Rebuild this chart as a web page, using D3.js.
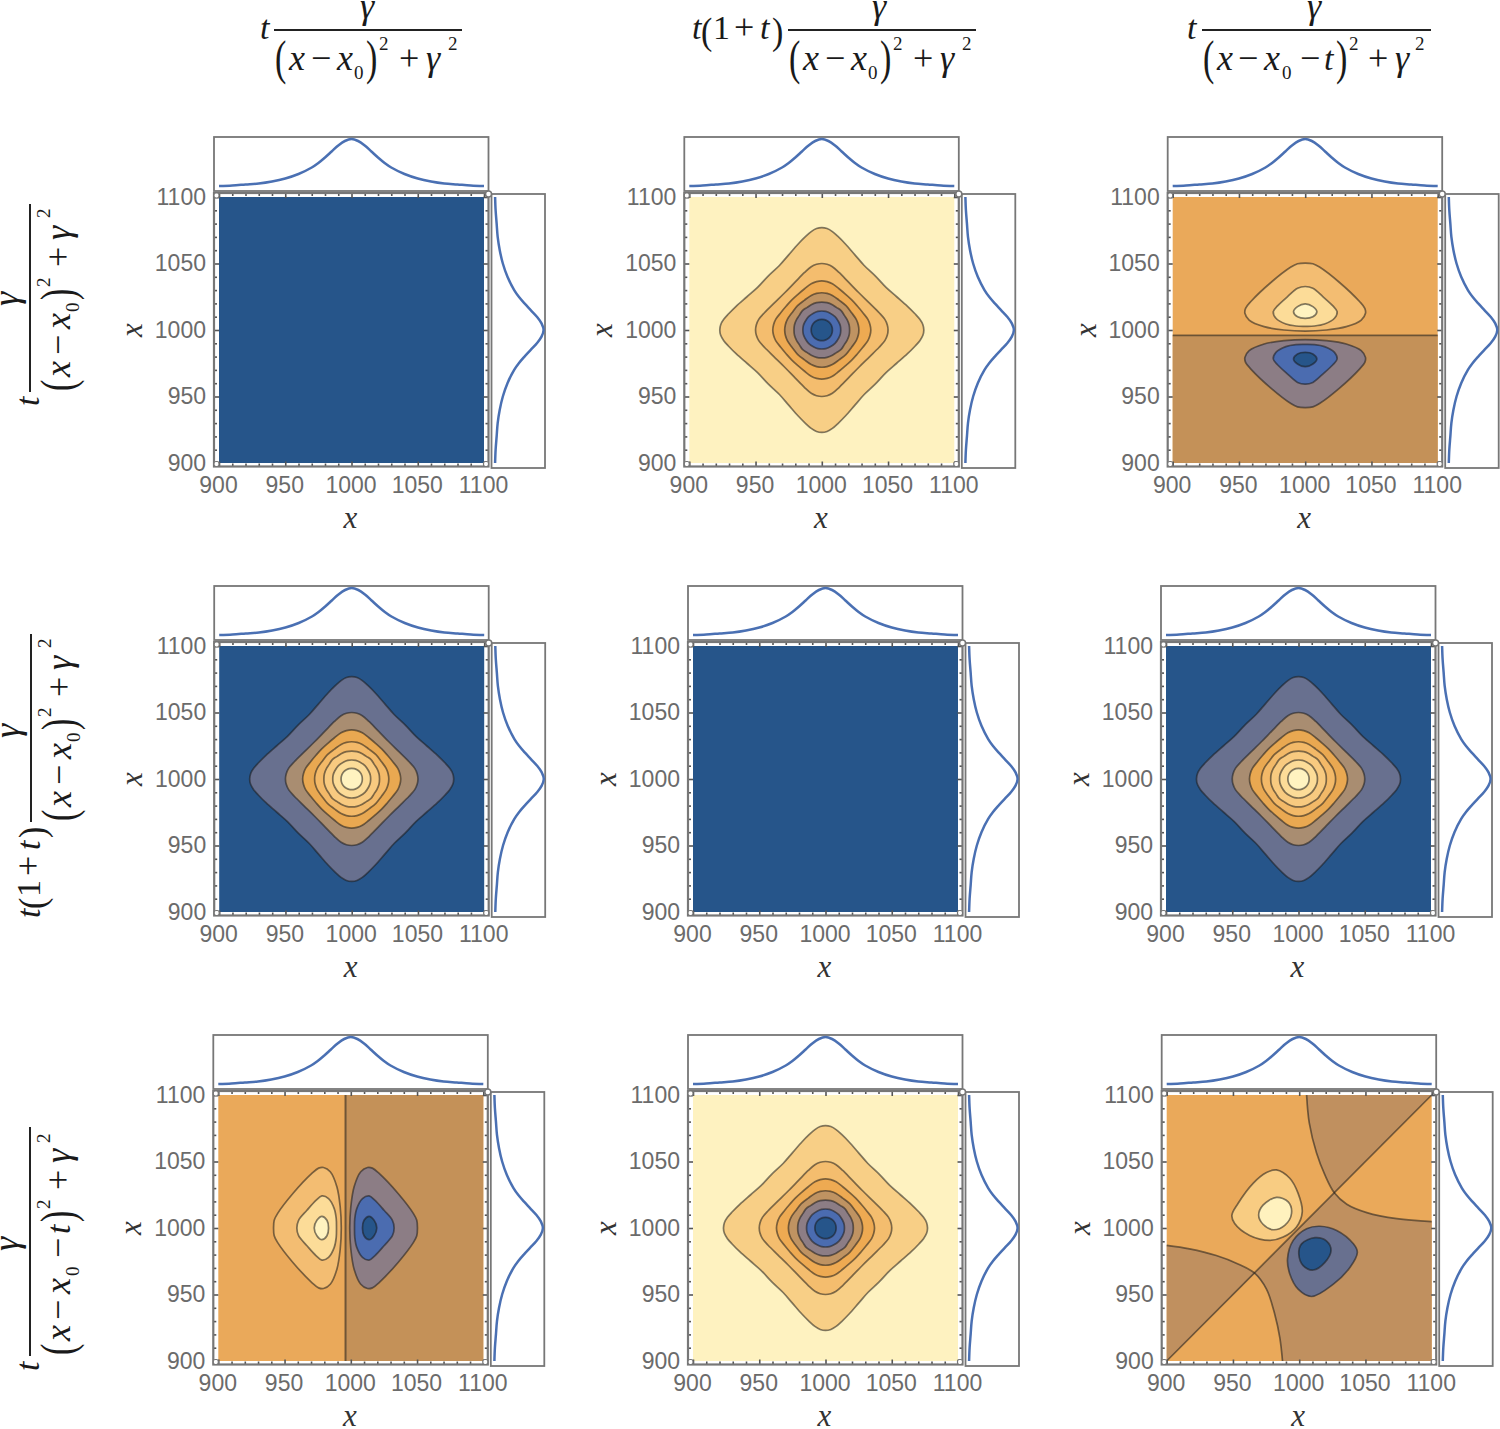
<!DOCTYPE html>
<html>
<head>
<meta charset="utf-8">
<script src="https://cdn.jsdelivr.net/npm/d3@7"></script>
<style>
  html, body { margin: 0; background: #fff; }
  svg { display: block; }
</style>
</head>
<body>
<svg id="chart" width="1500" height="1429"></svg>
<script>
// axis values
const majorTicks = [900, 950, 1000, 1050, 1100];
const minorTicks = d3.range(900, 1101, 10);

// 1D spectrum
const spectrumX = [900, 910, 920, 930, 940, 950, 960, 970, 975, 980, 985, 990, 995, 1000, 1005, 1010, 1015, 1020, 1025, 1030, 1040, 1050, 1060, 1070, 1080, 1090, 1100];
const spectrumY = [0.06, 0.07, 0.09, 0.11, 0.15, 0.21, 0.30, 0.43, 0.52, 0.63, 0.75, 0.87, 0.96, 1.0, 0.96, 0.87, 0.75, 0.63, 0.52, 0.43, 0.30, 0.21, 0.15, 0.11, 0.09, 0.07, 0.06];

// diamond contours around (1000,1000): one eighth of each, as [dx, dy] in data units
const diamond1 = [[0, 77], [4, 76.3], [8, 74], [12, 70.5], [18, 64.5], [25, 56.5], [32, 48.5], [40.5, 40.5]];
const diamond2 = [[0, 50], [4, 49.4], [8, 47.6], [13, 43.3], [20, 36.2], [28, 28]];
const diamond3 = [[0, 37], [4, 36.4], [8, 34.8], [13, 31], [18, 26.8], [22.6, 22.6]];
const diamond4 = [[0, 28], [4, 27.5], [8, 26], [13, 22.5], [18.3, 18.3]];
const diamond5 = [[0, 21], [4, 20.6], [8, 19], [11, 17], [14.6, 14.6]];
const diamond6 = [[0, 14.3], [3, 14], [6, 12.8], [10, 10]];
const diamond7 = [[0, 8], [2, 7.8], [4, 7], [5.7, 5.7]];
const diamonds = [diamond1, diamond2, diamond3, diamond4, diamond5, diamond6, diamond7];

// upper lobes of the shifted peak, right half only, x then y in data units
const lobeHalf1 = [[1000, 1050.3], [1005.8, 1049.8], [1010.8, 1047.3], [1025.9, 1035.7], [1041, 1021.4], [1045, 1016.3], [1045.5, 1012.6], [1042.3, 1007.5], [1031, 1002.5], [1015.8, 1000], [1000, 999.2]];
const lobeHalf2 = [[1000, 1032.7], [1005.8, 1031.4], [1013.3, 1025.1], [1020.9, 1018.1], [1024.1, 1013.8], [1022.1, 1008.8], [1014.6, 1004.5], [1007, 1003], [1000, 1002.8]];
const lobeHalf3 = [[1000, 1019.6], [1005.8, 1017.6], [1008.8, 1013.8], [1005.8, 1010], [1000, 1008.8]];
const splitValue = 996;

// bottom right panel
const crossUpper = [[1005.6, 1100], [1007.6, 1079], [1013.1, 1056.3], [1019.4, 1039.9], [1026.5, 1026.5], [1035.9, 1017.9], [1051, 1011.6], [1073.7, 1007], [1100, 1004.8]];
const crossLower = [[900, 986.9], [917.2, 984.3], [937.4, 979.3], [953.8, 973], [966.4, 966], [975.3, 954], [981.6, 935], [985.4, 917.4], [987.4, 900]];
const crossLight1 = [[982.8, 1043.7], [992.9, 1037.4], [999.2, 1026], [1002.3, 1012.1], [998, 1000.8], [987.9, 993.2], [977.8, 990.7], [962.6, 994.4], [951.3, 1003.3], [949.2, 1009.6], [953.8, 1018.4], [965.2, 1033.6], [975.3, 1041.7]];
const crossLight2 = [[982.8, 1023], [991.7, 1019.7], [994.2, 1010.9], [989.1, 1002], [980.3, 998.7], [972.7, 1002.8], [969.4, 1009.6], [972.7, 1017.2]];
const crossDark1 = [[1015.7, 1001.3], [1028.3, 998.2], [1040.9, 988.1], [1043.9, 981.8], [1038.4, 970.5], [1025.8, 957.8], [1009.3, 948.5], [999.2, 954], [992.9, 965.4], [991.2, 976.8], [995.5, 990.7], [1005.6, 999.5]];
const crossDark2 = [[1011.9, 992.7], [1020.7, 990.2], [1024, 983.1], [1019.4, 974.2], [1010.6, 968.4], [1003, 971.7], [999.7, 980.6], [1001.8, 988.1]];

// colours
const darkBlue = "#26558a", midBlue = "#4b6cb0", grayBlue = "#68708f", gray = "#8c7d85";
const tan = "#a98d71", brown = "#c49158", orange = "#eaa95a", pale = "#fff3c0";
const peakDark = ["#fef2c0", "#f8cf86", "#f4bd6e", "#eeaa52", "#bf9362", gray, midBlue, darkBlue];
const peakLight = [darkBlue, grayBlue, tan, "#e9a851", "#f3b968", "#f8ca80", "#fcdc98", pale];
const lineColor = "rgba(25,25,25,0.55)";
const blueLine = "#4a70b3";
const frameColor = "#777";

// where each panel sits, left edge of the data square by row and column
const panelLeft = [[219, 689.3, 1172.7], [219.2, 693, 1166], [218.3, 693, 1166.7]];
const panelTop = [197, 646, 1095];
const panelKind = [["flat", "dark", "rowLobes"], ["light", "flat", "light"], ["colLobes", "dark", "cross"]];
const panelSize = 265;

const svg = d3.select("#chart");

const curveLine = (x, y) => d3.line().x(d => x(d[0])).y(d => y(d[1])).curve(d3.curveCatmullRom.alpha(0.5));
const closedLine = (x, y) => d3.line().x(d => x(d[0])).y(d => y(d[1])).curve(d3.curveCatmullRomClosed.alpha(0.5));

// turn one eighth of a diamond into the whole closed contour
function wholeDiamond(part) {
    let quarter = part.concat(part.slice(0, -1).reverse().map(p => [p[1], p[0]]));
    let right = quarter.concat(quarter.slice(0, -1).reverse().map(p => [p[0], -p[1]]));
    let all = right.concat(right.slice(1, -1).reverse().map(p => [-p[0], p[1]]));
    return all.map(p => [1000 + p[0], 1000 + p[1]]);
}

// lobes are left/right symmetric and the lower one mirrors the upper one about the split
const wholeLobe = half => half.concat(half.slice(1, -1).reverse().map(p => [2000 - p[0], p[1]]));
const flipLobe = lobe => lobe.map(p => [p[0], 2 * splitValue - p[1]]);
const swapAxes = lobe => lobe.map(p => [p[1], p[0]]);
const lobesUp = [lobeHalf1, lobeHalf2, lobeHalf3].map(wholeLobe);
const lobesDown = lobesUp.map(flipLobe);

function drawContours(g, x, y, shapes, colors) {
    let closed = closedLine(x, y);
    shapes.forEach(function(shape, i) {
        g.append("path")
            .attr("d", closed(shape))
            .attr("fill", colors[i])
            .attr("stroke", lineColor)
            .attr("stroke-width", 1.7);
    });
}

function drawTicks(g, axis, tx, ty, attr, sign) {
    let a = g.append("g").attr("transform", `translate(${tx},${ty})`)
        .call(axis.tickValues(minorTicks).tickFormat("").tickSizeOuter(0).tickSizeInner(3));
    a.select(".domain").remove();
    a.selectAll(".tick line").attr("stroke", "#555").attr("stroke-width", 1.6);
    a.selectAll(".tick").filter(d => majorTicks.includes(d)).select("line").attr(attr, sign * 5);
}

function drawPanel(row, col) {
    let left = panelLeft[row][col], top = panelTop[row];
    let right = left + panelSize, bottom = top + panelSize + 1;
    let x = d3.scaleLinear().domain([900, 1100]).range([left, right]);
    let y = d3.scaleLinear().domain([900, 1100]).range([bottom, top]);
    let kind = panelKind[row][col];
    let g = svg.append("g");

    // background
    let bg = kind === "flat" || kind === "light" ? darkBlue : kind === "dark" ? peakDark[0] : orange;
    g.append("rect").attr("x", left).attr("y", top).attr("width", right - left).attr("height", bottom - top).attr("fill", bg);

    if (kind === "dark" || kind === "light") {
        drawContours(g, x, y, diamonds.map(wholeDiamond), (kind === "dark" ? peakDark : peakLight).slice(1));
    }
    if (kind === "rowLobes") {
        g.append("rect").attr("x", left).attr("y", y(splitValue)).attr("width", right - left).attr("height", bottom - y(splitValue)).attr("fill", brown);
        g.append("line").attr("x1", left).attr("x2", right).attr("y1", y(splitValue)).attr("y2", y(splitValue)).attr("stroke", lineColor).attr("stroke-width", 1.7);
        drawContours(g, x, y, lobesUp, ["#f3bd72", "#fcdc98", pale]);
        drawContours(g, x, y, lobesDown, [gray, midBlue, darkBlue]);
    }
    if (kind === "colLobes") {
        // same lobes as the row panel with the two axes swapped
        g.append("rect").attr("x", x(splitValue)).attr("y", top).attr("width", right - x(splitValue)).attr("height", bottom - top).attr("fill", brown);
        g.append("line").attr("x1", x(splitValue)).attr("x2", x(splitValue)).attr("y1", top).attr("y2", bottom).attr("stroke", lineColor).attr("stroke-width", 2);
        drawContours(g, x, y, lobesDown.map(swapAxes), ["#f3bd72", "#fcdc98", pale]);
        drawContours(g, x, y, lobesUp.map(swapAxes), [gray, midBlue, darkBlue]);
    }
    if (kind === "cross") {
        // both curves touch the diagonal at their fifth point
        let curve = curveLine(x, y);
        let pt = (a, b) => "L" + x(a) + "," + y(b);
        let wedge1 = curve(crossUpper.slice(0, 5)) + pt(1100, 1100) + "Z";
        let wedge2 = curve(crossLower.slice(0, 5)) + pt(900, 900) + "Z";
        let middle = curve(crossUpper.slice(4)) + pt(1100, 900) + curve(crossLower.slice(4).reverse()).replace("M", "L") + "Z";
        g.append("path").attr("d", wedge1 + wedge2 + middle).attr("fill", "#c0905f");
        [crossUpper, crossLower].forEach(c => g.append("path").attr("d", curve(c)).attr("fill", "none").attr("stroke", lineColor).attr("stroke-width", 1.7));
        g.append("line").attr("x1", x(900)).attr("y1", y(900)).attr("x2", x(1100)).attr("y2", y(1100)).attr("stroke", lineColor).attr("stroke-width", 1.7);
        drawContours(g, x, y, [crossLight1, crossLight2], ["#f8cc82", "#fff2be"]);
        drawContours(g, x, y, [crossDark1, crossDark2], [grayBlue, darkBlue]);
    }

    // frame with ticks on all four sides, pointing in
    let fl = left - 5, fr = right + 4.5, ft = top - 4, fb = bottom + 3.5;
    drawTicks(g, d3.axisTop(x), 0, fb, "y2", -1);
    drawTicks(g, d3.axisBottom(x), 0, ft, "y2", 1);
    drawTicks(g, d3.axisRight(y), fl, 0, "x2", 1);
    drawTicks(g, d3.axisLeft(y), fr, 0, "x2", -1);
    g.append("rect").attr("x", fl).attr("y", ft).attr("width", fr - fl).attr("height", fb - ft)
        .attr("fill", "none").attr("stroke", frameColor).attr("stroke-width", 2.2);
    [[fl, ft], [fl, fb - 5], [fr - 5, fb - 5]].forEach(function(c) {
        g.append("rect").attr("x", c[0]).attr("y", c[1]).attr("width", 5).attr("height", 5).attr("rx", 2)
            .attr("fill", "#fff").attr("stroke", frameColor).attr("stroke-width", 1.2);
    });

    // tick labels
    let labelX = g.append("g").attr("transform", `translate(-1,${bottom + 2})`)
        .call(d3.axisBottom(x).tickValues(majorTicks).tickSize(0).tickPadding(12).tickFormat(d3.format("d")));
    let labelY = g.append("g").attr("transform", `translate(${left - 13},0)`)
        .call(d3.axisLeft(y).tickValues(majorTicks).tickSize(0).tickPadding(0).tickFormat(d3.format("d")));
    [labelX, labelY].forEach(function(a) {
        a.select(".domain").remove();
        a.selectAll("text").attr("font-family", "Liberation Sans").attr("font-size", 23).attr("fill", "#6b6b6b");
    });

    // axis names
    g.append("text").attr("x", x(1000) - 1).attr("y", bottom + 65).attr("text-anchor", "middle")
        .attr("font-family", "Liberation Serif").attr("font-style", "italic").attr("font-size", 31).attr("fill", "#333").text("x");
    g.append("text").attr("transform", `translate(${left - 77},${y(1000)}) rotate(-90)`).attr("text-anchor", "middle")
        .attr("font-family", "Liberation Serif").attr("font-style", "italic").attr("font-size", 31).attr("fill", "#333").text("x");

    // spectrum above
    let topY = d3.scaleLinear().domain([0, 1]).range([top - 8, top - 58]);
    g.append("rect").attr("x", fl).attr("y", top - 60).attr("width", fr - fl).attr("height", 54)
        .attr("fill", "none").attr("stroke", frameColor).attr("stroke-width", 1.8);
    g.append("path").attr("fill", "none").attr("stroke", blueLine).attr("stroke-width", 2.5)
        .attr("d", d3.line().x((d, i) => x(spectrumX[i])).y(d => topY(d)).curve(d3.curveCatmullRom.alpha(0.5))(spectrumY));

    // spectrum on the side
    let sideX = d3.scaleLinear().domain([0, 1]).range([right + 8, right + 59.6]);
    g.append("rect").attr("x", right + 7.5).attr("y", top - 3).attr("width", 53.5).attr("height", panelSize + 9)
        .attr("fill", "none").attr("stroke", frameColor).attr("stroke-width", 1.8);
    g.append("path").attr("fill", "none").attr("stroke", blueLine).attr("stroke-width", 2.5)
        .attr("d", d3.line().x(d => sideX(d)).y((d, i) => y(spectrumX[i])).curve(d3.curveCatmullRom.alpha(0.5))(spectrumY));

    // little circle where the boxes meet
    g.append("circle").attr("cx", fr).attr("cy", top - 3).attr("r", 3)
        .attr("fill", "#fff").attr("stroke", frameColor).attr("stroke-width", 1.5);
}

// formula pieces: text, along, across, size, italic, tall
const denominatorPlain = [["(", 1, 44, 34, 0, 1.4], ["x", 15, 40, 36, 1], ["\u2212", 37, 40, 36, 0], ["x", 63, 40, 36, 1], ["0", 80, 49, 19, 0], [")", 92, 44, 34, 0, 1.4], ["2", 105, 20, 19, 0], ["+", 125, 40, 36, 0], ["\u03b3", 152, 40, 36, 1], ["2", 174, 20, 19, 0]];
const formulaOne = { bar: 188, parts: [["t", -14, 9, 34, 1], ["\u03b3", 86, -12, 36, 1]].concat(denominatorPlain) };
const formulaTwo = { bar: 188, parts: [["t", -96, 9, 34, 1], ["(", -87, 14, 34, 0, 1.1], ["1", -75, 9, 34, 0], ["+", -54, 9, 36, 0], ["t", -28, 9, 34, 1], [")", -16, 14, 34, 0, 1.1], ["\u03b3", 84, -12, 36, 1]].concat(denominatorPlain) };
const formulaThree = { bar: 229, parts: [["t", -15, 9, 34, 1], ["\u03b3", 105, -12, 36, 1], ["(", 1, 44, 34, 0, 1.4], ["x", 15, 40, 36, 1], ["\u2212", 36, 40, 36, 0], ["x", 62, 40, 36, 1], ["0", 80, 49, 19, 0], ["\u2212", 98, 40, 36, 0], ["t", 122, 40, 34, 1], [")", 134, 44, 34, 0, 1.4], ["2", 147, 20, 19, 0], ["+", 166, 40, 36, 0], ["\u03b3", 193, 40, 36, 1], ["2", 213, 20, 19, 0]] };

function drawFormula(f, transform) {
    let g = svg.append("g").attr("transform", transform);
    g.append("line").attr("x1", 0).attr("x2", f.bar).attr("y1", 0).attr("y2", 0).attr("stroke", "#222").attr("stroke-width", 2);
    g.selectAll("text").data(f.parts).join("text")
        .attr("transform", d => `translate(${d[1]},${d[2]}) scale(1,${d[5] || 1})`)
        .attr("font-family", "Liberation Serif")
        .attr("font-style", d => d[4] ? "italic" : "normal")
        .attr("font-size", d => d[3])
        .attr("fill", "#1a1a1a")
        .text(d => d[0]);
}

drawFormula(formulaOne, "translate(274,30)");
drawFormula(formulaTwo, "translate(788,30)");
drawFormula(formulaThree, "translate(1202,30)");
drawFormula(formulaOne, "translate(30,392) rotate(-90)");
drawFormula(formulaTwo, "translate(31,822) rotate(-90)");
drawFormula(formulaThree, "translate(30,1356) rotate(-90)");

panelKind.forEach((cols, row) => cols.forEach((kind, col) => drawPanel(row, col)));
</script>
</body>
</html>
